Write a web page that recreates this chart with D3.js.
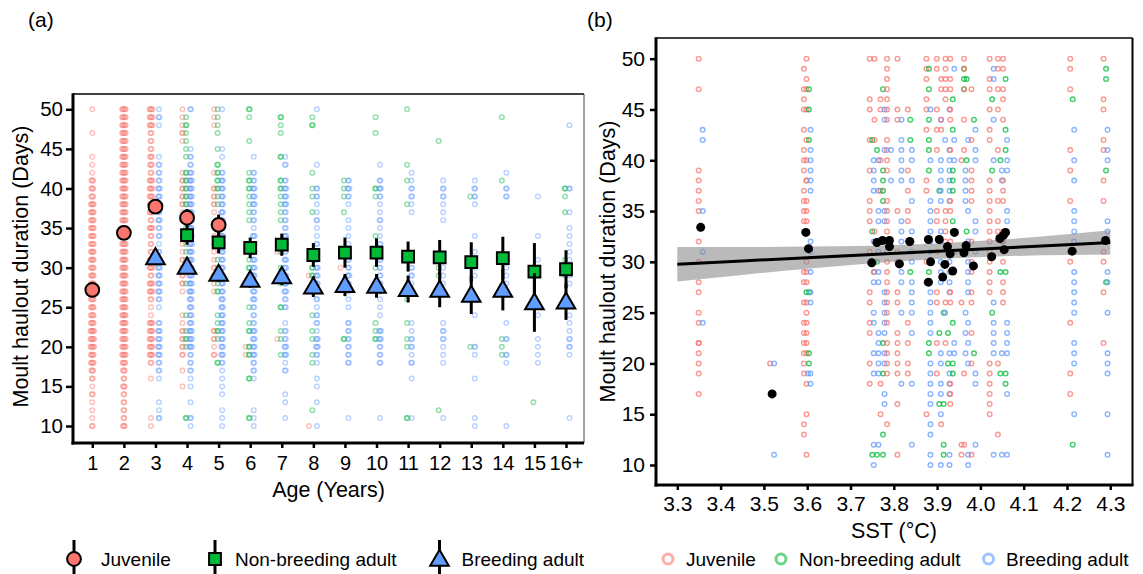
<!DOCTYPE html>
<html>
<head>
<meta charset="utf-8">
<script src="https://cdn.jsdelivr.net/npm/d3@7"></script>
<style>
  body { margin: 0; background: #fff; }
  svg text { font-family: "Liberation Sans", Arial, Helvetica, sans-serif; fill: #000; }
</style>
</head>
<body>
<svg id="chart" width="1143" height="574"></svg>
<script>
// ---------------- Panel (a): moult duration by age ----------------
const ageLabels = ["1","2","3","4","5","6","7","8","9","10","11","12","13","14","15","16+"];
const durationTicks = [10, 15, 20, 25, 30, 35, 40, 45, 50];

// Number of seals per haulout duration, one string per age class.
// Each string lists counts for 10,11,...,50 days (groups of ten days).
const juvenileCounts = [
  "2111212344 5554444444 4444444443 3311100100 1",
  "3222232345 5555555555 5555555555 5555555555 5",
  "1100001024 4444112442 4422242444 4423322244 4",
  "0000010102 2221100122 2211102122 2210001211 1",
  "0000000002 1220000112 2111100122 2010000011 1",
  "0000000001 1000000000 0000000000 0000000000 0",
  "0000000000 0100000000 0010000000 0000000000 0",
  "1000000000 0000000001 0000000000 0000000000 0",
  "0000000000 0000000000 1000000000 0000000000 0",
  "", "", "", "", "", "", ""
];
const nonBreedingCounts = [
  "", "", "",
  "0200000000 1210100010 1111112122 2220111121 0",
  "0000000020 0121100211 1101000011 2222010111 1",
  "0200002002 2021010010 2100001111 2210001001 2",
  "0000000001 0110020012 1010001111 2200200112 0",
  "0010000011 0110100002 2000000101 1010000021 0",
  "0000000000 0200000000 0000000101 1100000000 0",
  "0000000000 0211000000 1000100001 2000000101 0",
  "0200000000 1101001000 0000000010 0101000000 1",
  "0010000000 0000000001 1000000000 0000001000 0",
  "0000000000 1000000000 0000000001 0000000000 0",
  "0000000001 1100000000 0000000000 0100000001 0",
  "0001000000 0000000000 0000000000 0000000000 0",
  "0000000000 0000000001 0100000101 2000000000 0"
];
const breedingCounts = [
  "", "",
  "0211001223 3332012333 3321223233 3222100012 1",
  "1201011222 4443333444 4444444444 4432210000 2",
  "1110111123 3333333333 3333333333 3320110000 1",
  "1110001223 3332223333 3333312233 3220100000 0",
  "0101100213 3221022333 3323322233 3202100000 0",
  "1001011012 3312212233 3222112112 2001000000 1",
  "0100000022 2222011123 2221111012 3200000000 0",
  "0100000022 2330111122 2222112112 3201000000 0",
  "0100001021 2211000012 2100000112 2110000000 0",
  "0100000011 1221000011 1100001112 2100000000 0",
  "1100001001 2000100001 1210100012 2100000000 0",
  "1000000012 0201000011 1100000002 2010000000 0",
  "0000000011 1100100000 1100100001 0000000000 0",
  "0100000001 2211100011 1111110100 2000000010 0"
];

// Model estimates (days) with error half-widths, per age class
const juvenileMean = [27.2, 34.4, 37.7, 36.3, 35.4];
const juvenileErr  = [0.2, 0.3, 0.5, 1.1, 1.3];
const nonBreedingMean = [null, null, null, 34.1, 33.2, 32.5, 32.9, 31.6, 31.9, 31.9, 31.4, 31.3, 30.7, 31.2, 29.5, 29.8];
const nonBreedingErr  = [null, null, null, 1.2, 1.4, 1.3, 1.4, 1.5, 1.9, 1.8, 1.9, 2.2, 2.5, 2.7, 3.6, 2.4];
const breedingMean = [null, null, 31.3, 30.1, 29.2, 28.45, 28.9, 27.6, 27.8, 27.7, 27.3, 27.2, 26.55, 27.2, 25.6, 25.7];
const breedingErr  = [null, null, 1.0, 0.9, 1.0, 1.0, 1.1, 1.3, 1.4, 1.5, 1.7, 2.2, 2.4, 2.6, 3.7, 2.3];

// ---------------- Panel (b): moult duration against SST ----------------
const sstTicks = [3.3, 3.4, 3.5, 3.6, 3.7, 3.8, 3.9, 4.0, 4.1, 4.2, 4.3];
const sstColumns = [3.354, 3.519, 3.597, 3.603, 3.749, 3.760, 3.774, 3.789, 3.813, 3.837, 3.880, 3.904,
                    3.914, 3.924, 3.935, 3.961, 3.967, 3.984, 4.026, 4.045, 4.057, 4.212, 4.289];
const juvenileSST = [
  [50,47,39,38,37,36,35,32,30,28,27,25,24,22,22,21,20,19,17],
  [20],
  [49,47,46,45,43,41,40,39,37,36,35,34,33,29,28,26,24,23,22,21,20,19,14,13],
  [50,48,47,45,42,40,38,38,36,35,34,33,30,29,28,26,25,24,23,22,21,18,15,11],
  [50,46,45,42,39,36,35,34,31,27,26,24,23,20,18],
  [50,44,42,33,29],
  [46,45,40,37,18,15],
  [50,49,48,47,46,45,44,42,41,40,39,36,35,34,33,32,31,30,29,28,27,26,25,24,22,21,20,19,14],
  [50,45,44,35,31,30,27,26,23,22,21,20,19,16,11],
  [45,39,37,35,34,32,24,22,20,19],
  [50,49,48,46,45,43,38,37,30,28,15],
  [50,49,45,43,41,35,34,31,27,26,22,19],
  [48,47,44,43,14],
  [50,49,48,47,46,35,34,33,32,26,22],
  [50,48,47,45,44,41,36,35,32,27,26,18,17,16],
  [40,26,12,11],
  [50,49,47,44,41,31,19,12],
  [47,42,39,38,37,36,32,30,29,27,26,23,20,11],
  [50,48,47,45,43,42,38,37,36,35,34,33,32,31,30,29,28,27,20,19,18,17,16,15],
  [50,49,47,45,41,36,34,33,20,13],
  [50,49,47,46,44,38,37,36,33,32,31,30,28,27,26],
  [50,49,47,41,39,36,31,30,24,19,17],
  [50,46,45,42,41,38,36,32,31,30,27,22]
];
const nonBreedingSST = [
  [], [], [27], [47,45,42,27,21,20], [42,33,11], [41,30,11], [47,39,38,37,36,22,19,13,11], [],
  [], [44,42,29], [49,47,44,42,41,39,29,22,21], [37,23,16], [25,16,12,11], [23,20],
  [46,43,39,38,37,34,33,24,20,19], [49,48,47], [48,40,33], [44,21], [46,39,25], [40,29,19],
  [48,43,41,29,19,18], [46,12], [49,48,39,28]
];
const breedingSST = [
  [43,42,35,31,24],
  [20,11],
  [19],
  [43,41,40,39,38,37,32,31,29,27,26,19,18],
  [40,39,38,37,32,30,29,28,25,24,21,19,12,10],
  [40,37,35,34,32,31,29,28,23,22,21,20,19,12],
  [45,44,41,35,34,27,26,25,24,23,21,20,17,16],
  [41,38],
  [44,42,41,40,39,38,34,33,32,29,28,25,18],
  [41,40,38,36,33,31,30,28,27,26,25,23,18,12],
  [45,40,36,35,34,33,32,31,27,26,25,24,23,20,19,18,17,16,14,13,11,10],
  [44,40,39,38,37,36,33,32,30,29,28,21,20,18,17,15,10],
  [42,25],
  [45,41,40,39,38,37,36,31,30,29,28,27,21,19,18,17,11,10],
  [49,42,40,31,22,21],
  [39,38,37,36,25,23,21],
  [42,35,32,30,29,28,27,24,22,20,11,10],
  [43,41,40,34,33,31,19,18,12],
  [49,48,44,40,26,24,23,22,21,11],
  [39,38,32,21,11],
  [42,40,39,35,34,24,23,22,21,17,11],
  [43,40,38,35,34,33,32,29,28,27,26,25,22,21,20,15],
  [43,41,40,34,33,29,28,25,21,20,19,15,11]
];
// Mean duration per SST value
const meanSST = [3.354, 3.519, 3.597, 3.603, 3.749, 3.761, 3.774, 3.790, 3.790, 3.813, 3.837, 3.880, 3.880,
                 3.885, 3.905, 3.913, 3.918, 3.924, 3.930, 3.936, 3.940, 3.962, 3.967, 3.984, 4.026, 4.045,
                 4.053, 4.058, 4.055, 4.212, 4.289];
const meanDuration = [33.4, 17.0, 32.9, 31.3, 29.9, 31.9, 32.1, 32.1, 31.5, 29.8, 32.0, 32.2, 28.0,
                      30.0, 32.2, 28.5, 29.75, 31.5, 30.8, 29.1, 32.9, 30.9, 31.6, 29.6, 30.5, 32.3,
                      32.6, 32.9, 31.2, 31.05, 32.1];
// Linear fit and its confidence band
const fitSST   = [3.3, 3.45, 3.6, 3.75, 3.9, 4.05, 4.2, 4.3];
const fitValue = [29.77, 30.09, 30.41, 30.73, 31.05, 31.37, 31.69, 31.90];
const fitLower = [28.07, 28.71, 29.32, 29.87, 30.29, 30.55, 30.67, 30.70];
const fitUpper = [31.47, 31.47, 31.50, 31.59, 31.81, 32.19, 32.71, 33.10];

const statusNames = ["Juvenile", "Non-breeding adult", "Breeding adult"];
const statusColors = ["#F8766D", "#00BA38", "#619CFF"];

// ---------------- drawing ----------------
const svg = d3.select("#chart");

const xA = d3.scalePoint().domain(ageLabels).range([92.3, 566]);
const yA = d3.scaleLinear().domain([10, 50]).range([426, 109.3]);
const xB = d3.scaleLinear().domain([3.3, 4.3]).range([677.3, 1110.3]);
const yB = d3.scaleLinear().domain([10, 50]).range([465, 58.7]);

const boxA = { l: 73, r: 584, t: 94, b: 443 };
const boxB = { l: 656, r: 1132.5, t: 38, b: 485 };

// panel labels
svg.append("text").attr("x", 28).attr("y", 27).attr("font-size", 21).text("(a)");
svg.append("text").attr("x", 587).attr("y", 27).attr("font-size", 21).text("(b)");

// ---- panel (a) raw observations ----
const gA = svg.append("g");
const countSets = [juvenileCounts, nonBreedingCounts, breedingCounts];
const dodge = [-4.5, -1, 3.5];
const rawA = [];
ageLabels.forEach((age, i) => {
  const present = countSets.map(set => (set[i] || "").replace(/ /g, "")).map(s => /[1-9]/.test(s));
  const nPresent = present.filter(Boolean).length;
  countSets.forEach((set, s) => {
    const str = (set[i] || "").replace(/ /g, "");
    for (let k = 0; k < str.length; k++) {
      const n = +str[k];
      for (let j = 0; j < n; j++) {
        rawA.push({ age, dur: 10 + k, s, off: (nPresent > 1 ? dodge[s] : 0) + (j - (n - 1) / 2) * 0.9 });
      }
    }
  });
});
gA.selectAll("circle.raw").data(rawA).join("circle")
  .attr("class", "raw")
  .attr("cx", d => xA(d.age) + d.off)
  .attr("cy", d => yA(d.dur))
  .attr("r", 2.3)
  .attr("fill", "none")
  .attr("stroke", d => statusColors[d.s])
  .attr("stroke-width", 1.4)
  .attr("stroke-opacity", 0.45);

// ---- panel (a) estimates ----
const symbolTypes = [d3.symbolCircle, d3.symbolSquare, d3.symbolTriangle];
const symbolSizes = [150, 140, 150];
const estSets = [[juvenileMean, juvenileErr], [nonBreedingMean, nonBreedingErr], [breedingMean, breedingErr]];
estSets.forEach(([means, errs], s) => {
  const pts = ageLabels.map((age, i) => ({ age, m: means[i], e: errs[i] }))
    .filter(d => d.m != null);
  const g = gA.append("g");
  g.selectAll("line").data(pts).join("line")
    .attr("x1", d => xA(d.age)).attr("x2", d => xA(d.age))
    .attr("y1", d => yA(d.m - d.e)).attr("y2", d => yA(d.m + d.e))
    .attr("stroke", "#000").attr("stroke-width", 3);
  g.selectAll("path").data(pts).join("path")
    .attr("d", d3.symbol().type(symbolTypes[s]).size(symbolSizes[s]))
    .attr("transform", d => `translate(${xA(d.age)},${yA(d.m) + (s === 2 ? 1.5 : 0)})`)
    .attr("fill", statusColors[s])
    .attr("stroke", "#000")
    .attr("stroke-width", 2);
});

// ---- panel (a) frame and axes ----
svg.append("line").attr("x1", boxA.l).attr("x2", boxA.r).attr("y1", boxA.t).attr("y2", boxA.t)
  .attr("stroke", "#000").attr("stroke-width", 1.6);
svg.append("line").attr("x1", boxA.r).attr("x2", boxA.r).attr("y1", boxA.t).attr("y2", boxA.b)
  .attr("stroke", "#444").attr("stroke-width", 1);

function styleAxis(g, fontSize, tickWidth) {
  g.select(".domain").remove();
  g.selectAll(".tick line").attr("stroke", "#000").attr("stroke-width", tickWidth);
  g.selectAll(".tick text").attr("font-size", fontSize).attr("fill", "#000")
    .attr("font-family", "'Liberation Sans', Arial, sans-serif");
}
const axAx = svg.append("g").attr("transform", `translate(0,${boxA.b})`)
  .call(d3.axisBottom(xA).tickSize(5).tickPadding(7.5));
styleAxis(axAx, 20, 2.5);
const axAy = svg.append("g").attr("transform", `translate(${boxA.l},0)`)
  .call(d3.axisLeft(yA).tickValues(durationTicks).tickSize(7).tickPadding(3));
styleAxis(axAy, 20.5, 2.5);
svg.append("line").attr("x1", boxA.l).attr("x2", boxA.l).attr("y1", boxA.t - 0.8).attr("y2", boxA.b + 1.5)
  .attr("stroke", "#000").attr("stroke-width", 3);
svg.append("line").attr("x1", boxA.l - 1.5).attr("x2", boxA.r).attr("y1", boxA.b).attr("y2", boxA.b)
  .attr("stroke", "#000").attr("stroke-width", 3);

svg.append("text").attr("x", (boxA.l + boxA.r) / 2).attr("y", 489).attr("dy", "0.35em")
  .attr("text-anchor", "middle").attr("font-size", 21.5).text("Age (Years)");
svg.append("text").attr("transform", `translate(20,${(boxA.t + boxA.b) / 2 - 2}) rotate(-90)`)
  .attr("dy", "0.35em").attr("text-anchor", "middle").attr("font-size", 21.5)
  .text("Moult haulout duration (Days)");

// ---- panel (b) raw observations ----
const gB = svg.append("g");
const sstSets = [juvenileSST, nonBreedingSST, breedingSST];
const dodgeB = [-2, 0.5, 2];
const rawB = [];
sstColumns.forEach((sst, c) => {
  sstSets.forEach((set, s) => {
    (set[c] || []).forEach(dur => rawB.push({ sst, dur, s }));
  });
});
gB.selectAll("circle").data(rawB).join("circle")
  .attr("cx", d => xB(d.sst) + dodgeB[d.s])
  .attr("cy", d => yB(d.dur))
  .attr("r", 2.3)
  .attr("fill", "none")
  .attr("stroke", d => statusColors[d.s])
  .attr("stroke-width", 1.4)
  .attr("stroke-opacity", 0.75);

// confidence band and fitted line
const fitRows = fitSST.map((x, i) => ({ x, v: fitValue[i], lo: fitLower[i], hi: fitUpper[i] }));
gB.append("path").datum(fitRows)
  .attr("d", d3.area().x(d => xB(d.x)).y0(d => yB(d.lo)).y1(d => yB(d.hi)).curve(d3.curveMonotoneX))
  .attr("fill", "#8c8c8c").attr("fill-opacity", 0.6);
gB.append("path").datum(fitRows)
  .attr("d", d3.line().x(d => xB(d.x)).y(d => yB(d.v)))
  .attr("fill", "none").attr("stroke", "#000").attr("stroke-width", 3);

// mean per SST value
gB.selectAll("circle.mean").data(meanSST.map((x, i) => ({ x, v: meanDuration[i] })))
  .join("circle").attr("class", "mean")
  .attr("cx", d => xB(d.x)).attr("cy", d => yB(d.v)).attr("r", 4.5).attr("fill", "#000");

// ---- panel (b) frame and axes ----
svg.append("line").attr("x1", boxB.l).attr("x2", boxB.r).attr("y1", boxB.t).attr("y2", boxB.t)
  .attr("stroke", "#000").attr("stroke-width", 1.6);
svg.append("line").attr("x1", boxB.r).attr("x2", boxB.r).attr("y1", boxB.t).attr("y2", boxB.b)
  .attr("stroke", "#000").attr("stroke-width", 2);
const axBx = svg.append("g").attr("transform", `translate(0,${boxB.b})`)
  .call(d3.axisBottom(xB).tickValues(sstTicks).tickFormat(d3.format(".1f")).tickSize(5).tickPadding(6.5));
styleAxis(axBx, 21, 2.5);
const axBy = svg.append("g").attr("transform", `translate(${boxB.l},0)`)
  .call(d3.axisLeft(yB).tickValues(durationTicks).tickSize(6).tickPadding(5));
styleAxis(axBy, 21, 2.5);
svg.append("line").attr("x1", boxB.l).attr("x2", boxB.l).attr("y1", boxB.t - 0.8).attr("y2", boxB.b + 1.5)
  .attr("stroke", "#000").attr("stroke-width", 3);
svg.append("line").attr("x1", boxB.l - 1.5).attr("x2", boxB.r + 1).attr("y1", boxB.b).attr("y2", boxB.b)
  .attr("stroke", "#000").attr("stroke-width", 3);

svg.append("text").attr("x", 894).attr("y", 530).attr("dy", "0.35em")
  .attr("text-anchor", "middle").attr("font-size", 21.5).text("SST (°C)");
svg.append("text").attr("transform", `translate(607,${(boxB.t + boxB.b) / 2}) rotate(-90)`)
  .attr("dy", "0.35em").attr("text-anchor", "middle").attr("font-size", 21.5)
  .text("Moult haulout duration (Days)");

// ---- legends ----
const legY = 559;
const legendA = [
  { s: 0, gx: 74, tx: 101 },
  { s: 1, gx: 215, tx: 235 },
  { s: 2, gx: 439.5, tx: 461.5 }
];
const gLa = svg.append("g");
legendA.forEach(item => {
  gLa.append("line").attr("x1", item.gx).attr("x2", item.gx).attr("y1", legY - 19).attr("y2", legY + 19)
    .attr("stroke", "#000").attr("stroke-width", 3);
  gLa.append("path")
    .attr("d", d3.symbol().type(symbolTypes[item.s]).size(symbolSizes[item.s])())
    .attr("transform", `translate(${item.gx},${legY + (item.s === 2 ? 1.5 : 0)})`)
    .attr("fill", statusColors[item.s]).attr("stroke", "#000").attr("stroke-width", 2);
  gLa.append("text").attr("x", item.tx).attr("y", legY).attr("dy", "0.35em")
    .attr("font-size", 19).text(statusNames[item.s]);
});
const legendB = [
  { s: 0, gx: 668, tx: 686 },
  { s: 1, gx: 781, tx: 799 },
  { s: 2, gx: 988.5, tx: 1006 }
];
const gLb = svg.append("g");
legendB.forEach(item => {
  gLb.append("circle").attr("cx", item.gx).attr("cy", legY).attr("r", 5)
    .attr("fill", "none").attr("stroke", statusColors[item.s]).attr("stroke-width", 3)
    .attr("stroke-opacity", 0.6);
  gLb.append("text").attr("x", item.tx).attr("y", legY).attr("dy", "0.35em")
    .attr("font-size", 19).text(statusNames[item.s]);
});
</script>
</body>
</html>
